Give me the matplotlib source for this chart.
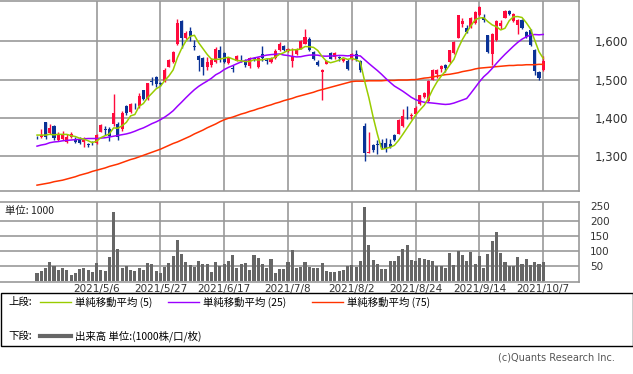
import matplotlib
matplotlib.use("Agg")
import matplotlib.pyplot as plt
import pandas as pd
import numpy as np
from matplotlib.patches import Rectangle
from matplotlib.lines import Line2D

plt.rcParams['font.family'] = ['DejaVu Sans', 'Noto Sans CJK JP']

# daily OHLC (yen), 120 sessions ending 2021/10/7
o = [1350, 1349, 1389, 1361, 1380, 1342, 1344, 1337, 1350, 1343, 1345, 1337, 1331, 1335, 1335, 1363, 1372, 1370, 1383, 1383,
     1370, 1430, 1416, 1432, 1431, 1472, 1449, 1496, 1506, 1491, 1497, 1534, 1547, 1592, 1653, 1610, 1628, 1588, 1562, 1556,
     1534, 1537, 1546, 1578, 1570, 1543, 1531, 1550, 1555, 1552, 1535, 1556, 1533, 1568, 1551, 1546, 1557, 1577, 1587, 1574,
     1549, 1568, 1581, 1594, 1607, 1572, 1546, 1520, 1542, 1570, 1558, 1558, 1548, 1550, 1555, 1568, 1550, 1378, 1308, 1329,
     1330, 1335, 1335, 1332, 1355, 1359, 1378, 1405, 1406, 1411, 1436, 1455, 1444, 1500, 1514, 1527, 1539, 1546, 1570, 1610,
     1646, 1636, 1637, 1648, 1668, 1663, 1616, 1566, 1603, 1639, 1662, 1679, 1653, 1642, 1655, 1624, 1629, 1577, 1520, 1526]
h = [1353, 1370, 1390, 1385, 1381, 1362, 1365, 1359, 1363, 1350, 1350, 1349, 1334, 1339, 1357, 1383, 1378, 1375, 1462, 1390,
     1418, 1434, 1440, 1440, 1464, 1474, 1492, 1506, 1509, 1495, 1530, 1555, 1576, 1658, 1655, 1628, 1637, 1604, 1564, 1558,
     1558, 1556, 1585, 1588, 1572, 1560, 1537, 1565, 1565, 1555, 1559, 1560, 1560, 1589, 1556, 1560, 1580, 1598, 1590, 1584,
     1582, 1582, 1604, 1633, 1612, 1575, 1552, 1527, 1552, 1573, 1572, 1563, 1557, 1555, 1570, 1578, 1552, 1387, 1362, 1332,
     1342, 1345, 1347, 1345, 1358, 1396, 1424, 1430, 1414, 1430, 1461, 1467, 1498, 1527, 1527, 1539, 1542, 1577, 1600, 1670,
     1660, 1642, 1664, 1679, 1692, 1672, 1618, 1623, 1655, 1656, 1681, 1683, 1674, 1658, 1658, 1627, 1632, 1580, 1523, 1563]
l = [1346, 1348, 1345, 1359, 1343, 1339, 1342, 1334, 1348, 1335, 1331, 1324, 1325, 1330, 1332, 1362, 1355, 1340, 1380, 1342,
     1365, 1408, 1414, 1424, 1425, 1448, 1446, 1485, 1482, 1484, 1495, 1532, 1543, 1590, 1583, 1605, 1601, 1577, 1523, 1511,
     1525, 1534, 1544, 1546, 1543, 1540, 1521, 1548, 1545, 1533, 1531, 1550, 1531, 1548, 1540, 1543, 1555, 1575, 1575, 1572,
     1533, 1565, 1579, 1592, 1575, 1552, 1535, 1446, 1540, 1553, 1555, 1548, 1545, 1525, 1552, 1550, 1521, 1288, 1307, 1312,
     1305, 1318, 1311, 1320, 1340, 1357, 1376, 1398, 1398, 1409, 1434, 1453, 1442, 1498, 1505, 1520, 1520, 1544, 1568, 1608,
     1638, 1622, 1635, 1646, 1666, 1650, 1570, 1537, 1601, 1632, 1660, 1668, 1651, 1620, 1633, 1609, 1588, 1511, 1498, 1522]
c = [1349, 1356, 1350, 1374, 1348, 1357, 1355, 1350, 1357, 1337, 1335, 1343, 1329, 1333, 1355, 1381, 1369, 1352, 1412, 1350,
     1414, 1413, 1437, 1430, 1457, 1450, 1490, 1494, 1489, 1489, 1525, 1551, 1573, 1649, 1610, 1621, 1614, 1586, 1551, 1534,
     1545, 1552, 1581, 1557, 1546, 1557, 1529, 1561, 1553, 1537, 1557, 1553, 1557, 1556, 1549, 1557, 1575, 1594, 1577, 1580,
     1563, 1578, 1601, 1611, 1577, 1555, 1537, 1524, 1550, 1555, 1570, 1556, 1555, 1529, 1568, 1553, 1524, 1309, 1311, 1316,
     1329, 1324, 1321, 1325, 1342, 1394, 1404, 1404, 1408, 1427, 1459, 1465, 1496, 1524, 1524, 1536, 1530, 1577, 1598, 1668,
     1653, 1624, 1662, 1677, 1690, 1657, 1572, 1620, 1653, 1648, 1679, 1671, 1672, 1655, 1636, 1611, 1590, 1523, 1505, 1548]

# volume (x1000)
vol = [25, 33, 44, 62, 51, 36, 42, 36, 19, 26, 39, 42, 37, 30, 59, 37, 33, 79, 230, 106,
       42, 49, 37, 33, 42, 37, 59, 56, 33, 27, 47, 59, 82, 136, 90, 62, 52, 46, 66, 56,
       56, 30, 62, 50, 56, 66, 86, 42, 56, 59, 36, 86, 76, 56, 42, 72, 26, 39, 39, 62,
       102, 42, 46, 62, 46, 42, 42, 59, 32, 29, 29, 32, 36, 49, 52, 46, 66, 248, 119, 69,
       56, 39, 39, 66, 66, 82, 106, 119, 69, 66, 76, 72, 69, 66, 49, 49, 42, 92, 52, 99,
       86, 66, 96, 56, 82, 42, 89, 132, 162, 92, 62, 50, 50, 79, 56, 72, 52, 62, 56, 62]

# moving-average values before enough in-window closes exist
ma5_head = [1355, 1355, 1355, 1357]
ma25_head = [1326, 1329, 1331, 1335, 1337, 1338, 1340, 1341, 1342, 1343, 1344, 1345,
             1346, 1346, 1346, 1347, 1348, 1350, 1352, 1354, 1356, 1358, 1361, 1365]
ma75 = [1224, 1226, 1228, 1230, 1233, 1235, 1237, 1240, 1243, 1246, 1250, 1253, 1256, 1260, 1263, 1266, 1269, 1273, 1276, 1279,
        1283, 1287, 1291, 1294, 1298, 1302, 1306, 1310, 1314, 1318, 1323, 1328, 1333, 1337, 1342, 1347, 1352, 1358, 1363, 1368,
        1374, 1379, 1384, 1390, 1395, 1399, 1402, 1406, 1410, 1413, 1417, 1420, 1424, 1427, 1431, 1434, 1438, 1441, 1445, 1448,
        1451, 1455, 1458, 1461, 1464, 1467, 1471, 1474, 1477, 1480, 1483, 1486, 1489, 1492, 1495, 1496, 1496, 1496, 1497, 1497,
        1497, 1497, 1498, 1498, 1498, 1499, 1499, 1499, 1500, 1500, 1502, 1504, 1505, 1507, 1509, 1511, 1513, 1514, 1516, 1518,
        1521, 1523, 1525, 1528, 1530, 1531, 1532, 1533, 1534, 1535, 1536, 1537, 1537, 1538, 1538, 1539, 1539, 1539, 1540, 1540]

tick_idx = [14, 29, 44, 59, 74, 89, 104, 119]
tick_lbl = ['2021/5/6', '2021/5/27', '2021/6/17', '2021/7/8', '2021/8/2', '2021/8/24', '2021/9/14', '2021/10/7']

close = pd.Series(c, dtype=float)
ma5 = close.rolling(5).mean().values
ma5[:4] = ma5_head
ma25 = close.rolling(25).mean().values
ma25[:24] = ma25_head

UP, DOWN = '#ff0a3c', '#0a3296'
GRID = '#999999'
W, H = 633, 374

fig = plt.figure(figsize=(6.33, 3.74), dpi=100)


def px_axes(x0, y0, x1, y1):
    return fig.add_axes([x0 / W, 1 - y1 / H, (x1 - x0) / W, (y1 - y0) / H])


x = np.arange(len(c))
xlim = (-8.7, 127.4)

# ---- price panel
ax = px_axes(0, 0.5, 579, 190.5)
for i in x:
    col = UP if c[i] > o[i] else DOWN
    ax.vlines(i, l[i], h[i], color=col, lw=1, zorder=3)
    lo = min(o[i], c[i])
    ax.bar(i, max(abs(c[i] - o[i]), 2), bottom=lo, width=0.72, color=col, zorder=4, linewidth=0)
ax.plot(x, ma75, color='#ff3300', lw=1.1, zorder=5)
ax.plot(x, ma25, color='#9b00ff', lw=1.1, zorder=5)
ax.plot(x, ma5, color='#99cc00', lw=1.1, zorder=6)
ax.set_xlim(*xlim)
ax.set_ylim(1210, 1707)
ax.set_yticks([1300, 1400, 1500, 1600])
ax.set_yticklabels(['1,300', '1,400', '1,500', '1,600'], fontsize=8.5, color='#333333')
ax.yaxis.tick_right()
ax.set_xticks(tick_idx)
ax.tick_params(axis='x', labelbottom=False, length=0)
ax.tick_params(axis='y', length=0, pad=11)
ax.grid(True, color=GRID, lw=1.2)
ax.set_axisbelow(True)
for s in ax.spines.values():
    s.set_color(GRID)
    s.set_linewidth(1.2)
ax.spines['left'].set_visible(False)

# ---- volume panel
av = px_axes(0, 201.7, 579, 281.5)
av.bar(x, vol, width=0.72, color='#666666', linewidth=0, zorder=3)
av.set_xlim(*xlim)
av.set_ylim(-2, 265)
av.set_yticks([50, 100, 150, 200, 250])
av.set_yticklabels(['50', '100', '150', '200', '250'], fontsize=7.5, color='#333333')
av.yaxis.tick_right()
av.tick_params(axis='y', length=0, pad=8)
av.set_xticks(tick_idx)
av.set_xticklabels(tick_lbl, fontsize=7.5, color='#333333')
av.tick_params(axis='x', length=0, pad=1.5)
for yv in [50, 100, 150, 200]:
    av.axhline(yv, color=GRID, lw=1.2, zorder=1)
for xv in tick_idx:
    av.axvline(xv, color=GRID, lw=1.2, zorder=1)
for s in av.spines.values():
    s.set_color(GRID)
    s.set_linewidth(1.2)
av.spines['left'].set_visible(False)
av.text(5 / 579, 0.88, '単位: 1000', transform=av.transAxes, fontsize=7.5,
        family=['Noto Sans CJK JP', 'DejaVu Sans'], color='#222222', va='center', zorder=5)

# ---- legend box + footer, drawn in pixel coordinates
lg = fig.add_axes([0, 0, 1, 1])
lg.set_xlim(0, W)
lg.set_ylim(H, 0)
lg.axis('off')
lg.add_patch(Rectangle((0.5, 293), 632, 53, fill=False, edgecolor='black', lw=1))
jp = ['Noto Sans CJK JP', 'DejaVu Sans']
lg.text(8, 302, '上段:', fontsize=7.5, family=jp, va='center')
lg.text(8, 336, '下段:', fontsize=7.5, family=jp, va='center')
for x0, col, lbl in [(40, '#99cc00', '単純移動平均 (5)'),
                     (168, '#9b00ff', '単純移動平均 (25)'),
                     (312, '#ff3300', '単純移動平均 (75)')]:
    lg.add_line(Line2D([x0, x0 + 31], [302, 302], color=col, lw=1))
    lg.text(x0 + 35, 302, lbl, fontsize=7.5, family=jp, va='center')
lg.add_line(Line2D([40, 71], [336, 336], color='#666666', lw=3))
lg.text(75, 336, '出来高 単位:(1000株/口/枚)', fontsize=7.5, family=jp, va='center')
lg.text(615, 357, '(c)Quants Research Inc.', fontsize=7, color='#555555', ha='right', va='center')

fig.savefig('out.png', dpi=100)
